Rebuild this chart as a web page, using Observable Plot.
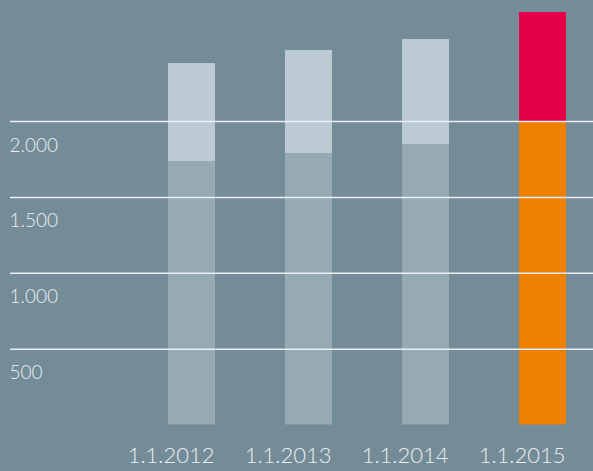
<!DOCTYPE html>
<html>
<head>
<meta charset="utf-8">
<script src="https://cdn.jsdelivr.net/npm/d3@7"></script>
<script src="https://cdn.jsdelivr.net/npm/@observablehq/plot@0.6"></script>
<style>
  html, body { margin: 0; padding: 0; background: #748b98; }
  #chart svg { display: block; }
</style>
</head>
<body>
<div id="chart"></div>
<script>
const dates = ["1.1.2012", "1.1.2013", "1.1.2014", "1.1.2015"];
const baseValues = [1736, 1789, 1848, 2000];
const totalValues = [2382, 2468, 2540, 2718];
const gridValues = [500, 1000, 1500, 2000];
const gridLabels = ["500", "1.000", "1.500", "2.000"];

const baseColors = ["#97aab4", "#97aab4", "#97aab4", "#f08000"];
const topColors = ["#bccad3", "#bccad3", "#bccad3", "#e5004a"];

const rows = dates.map((d, i) => ({date: d, base: baseValues[i], total: totalValues[i], i}));
const grid = gridValues.map((v, i) => ({v, label: gridLabels[i]}));

const font = "Lato, 'Open Sans', sans-serif";

const chart = Plot.plot({
  width: 593,
  height: 471,
  marginLeft: 10,
  marginRight: 0,
  marginTop: 0,
  marginBottom: 46.5,
  style: {background: "#748b98", fontFamily: font, fontWeight: 300},
  x: {domain: dates, range: [167, 566.5], paddingInner: 0.6, paddingOuter: 0, axis: null},
  y: {domain: [0, 2000], range: [424.5, 121], axis: null},
  marks: [
    Plot.barY(rows, {x: "date", y1: 0, y2: "base", fill: d => baseColors[d.i], inset: 0}),
    Plot.barY(rows, {x: "date", y1: "base", y2: "total", fill: d => topColors[d.i], inset: 0}),
    Plot.ruleY(grid, {y: "v", stroke: "#e8eef1", strokeWidth: 1.5}),
    Plot.text(grid, {y: "v", text: "label", frameAnchor: "left", textAnchor: "start", dx: -1, dy: 24, fontSize: 19, fill: "#e9eef1", fontWeight: 300}),
    Plot.text(rows, {x: "date", text: "date", frameAnchor: "bottom", textAnchor: "end", dx: 22.5, dy: 38, fontSize: 22, fill: "#e9eef1", fontWeight: 300, style: "letter-spacing:-0.4px"})
  ]
});
document.getElementById("chart").appendChild(chart);
</script>
</body>
</html>
